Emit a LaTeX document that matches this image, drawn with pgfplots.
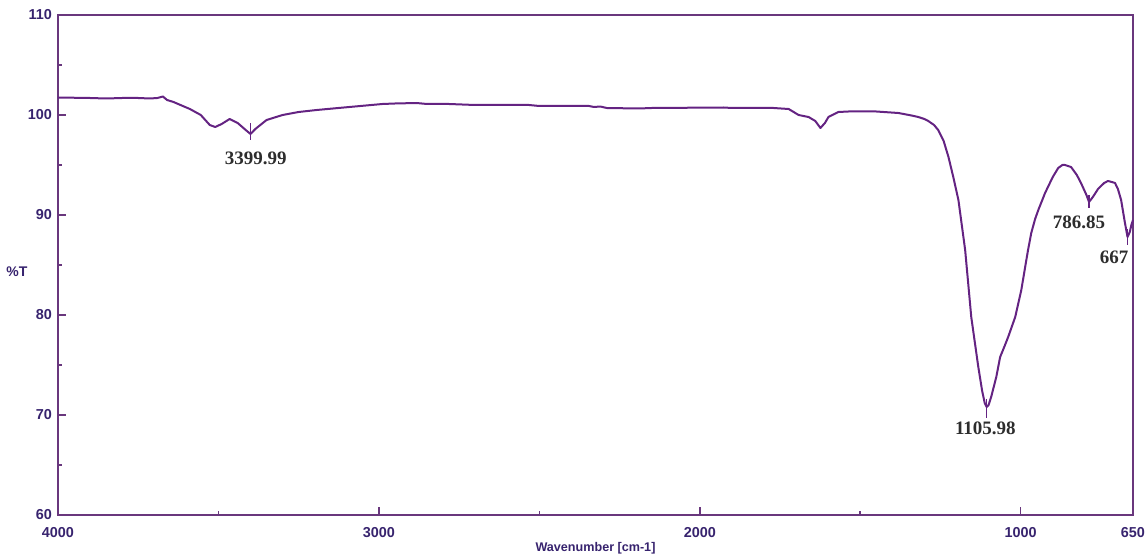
\documentclass[border=0pt]{standalone}
\usepackage{pgfplots}
\pgfplotsset{compat=1.18}
\usepackage{fontspec}
\setmainfont{Liberation Serif}
\newfontfamily\arialf{Liberation Sans}
\usetikzlibrary{calc}
\definecolor{axpurple}{RGB}{105,55,125}
\definecolor{curvecol}{RGB}{100,35,130}
\definecolor{lblblue}{RGB}{55,35,110}
\definecolor{anncol}{RGB}{45,45,45}
\begin{document}
\begin{tikzpicture}
\begin{axis}[
  scale only axis,
  width=537.5pt, height=250pt,
  x dir=reverse,
  xmin=650, xmax=4000, ymin=60, ymax=110,
  xtick={4000,3000,2000,1000,650},
  minor xtick={3500,2500,1500},
  ytick={60,70,80,90,100,110},
  minor ytick={65,75,85,95,105},
  xtick pos=bottom, ytick pos=left,
  tick align=inside,
  major tick length=4pt, minor tick length=2pt,
  axis line style={axpurple, line width=0.8pt},
  every tick/.style={axpurple, line width=0.8pt},
  /pgf/number format/assume math mode=true,
  /pgf/number format/1000 sep={},
  tick label style={font=\arialf\bfseries\fontsize{7.2}{8}\selectfont, text=lblblue},
  xticklabel style={yshift=-2.5pt},
  yticklabel style={xshift=0.5pt},
  every axis x label/.style={at={(axis description cs:0.5,0)}, anchor=center, yshift=-16.5pt},
  every axis y label/.style={at={(axis description cs:0,0.5)}, anchor=center, xshift=-20.5pt, yshift=-3.5pt},
  xlabel={\arialf\bfseries\fontsize{6.3}{7}\selectfont Wavenumber [cm-1]},
  ylabel={\arialf\bfseries\fontsize{7}{8}\selectfont \%T},
  label style={text=lblblue},
  clip=false,
]
\coordinate (bl) at (rel axis cs:0,0);
\coordinate (tr) at (rel axis cs:1,1);
\addplot[color=curvecol, line width=1pt, no marks, line join=round] coordinates {
(4000,101.75) (3900,101.7) (3850,101.65) (3800,101.7) (3750,101.7) (3714,101.65)
(3690,101.7) (3673,101.85) (3660,101.5) (3640,101.3) (3589,100.6) (3555,100.0)
(3527,99.0) (3510,98.8) (3490,99.1) (3465,99.6) (3440,99.2) (3415,98.5) (3400,98.1)
(3385,98.6) (3350,99.5) (3300,100.0) (3250,100.3) (3194,100.5) (3092,100.8)
(2989,101.1) (2950,101.15) (2883,101.2) (2850,101.1) (2781,101.1) (2700,101.0)
(2532,101.0) (2500,100.9) (2345,100.9) (2330,100.8) (2310,100.85) (2290,100.7)
(2190,100.65) (2150,100.7) (1925,100.75) (1900,100.7) (1770,100.7) (1723,100.6)
(1692,100.0) (1661,99.8) (1640,99.4) (1624,98.7) (1610,99.2) (1599,99.8)
(1568,100.3) (1537,100.35) (1450,100.35) (1381,100.2) (1340,99.95) (1319,99.8) (1300,99.6) (1288,99.4)
(1270,99.0) (1257,98.5) (1240,97.4) (1225,95.8) (1210,93.8) (1194,91.5) (1173,86.5) (1154,79.8) (1132,74.8)
(1120,72.4) (1112,71.2) (1106,70.8) (1100,71.0) (1092,71.8) (1076,73.8) (1064,75.8) (1050,76.9) (1039,77.8)
(1017,79.8) (998,82.5) (985,85.0) (977,86.5) (967,88.2) (955,89.6) (945,90.5) (924,92.2) (900,93.8)
(883,94.7) (870,95.0) (862,95.0) (843,94.8) (825,94.0) (812,93.2) (795,92.0) (787,91.3)
(775,91.8) (759,92.6) (740,93.2) (728,93.4) (716,93.3) (706,93.2) (697,92.6) (687,91.5)
(675,89.2) (667,87.8) (660,88.3) (655,89.0) (650,89.5)
};
% peak markers
\draw[curvecol, line width=0.6pt] (axis cs:3400,99.2) -- (axis cs:3400,97.5);
\draw[curvecol, line width=0.6pt] (axis cs:1106,71.6) -- (axis cs:1106,69.7);
\draw[curvecol, line width=0.6pt] (axis cs:787,92.0) -- (axis cs:787,90.7);
\draw[curvecol, line width=0.6pt] (axis cs:667,88.6) -- (axis cs:667,87.0);
\node[font=\bfseries\fontsize{9.5}{10}\selectfont, text=anncol] at (axis cs:3384,95.7) {3399.99};
\node[font=\bfseries\fontsize{9.5}{10}\selectfont, text=anncol] at (axis cs:1110,68.7) {1105.98};
\node[font=\bfseries\fontsize{9.5}{10}\selectfont, text=anncol] at (axis cs:818,89.3) {786.85};
\node[font=\bfseries\fontsize{9.5}{10}\selectfont, text=anncol] at (axis cs:709,85.8) {667};
\end{axis}
\pgfresetboundingbox
\path[use as bounding box] ($(bl)+(-29pt,-21.5pt)$) rectangle ($(tr)+(7.5pt,7.5pt)$);
\end{tikzpicture}
\end{document}
